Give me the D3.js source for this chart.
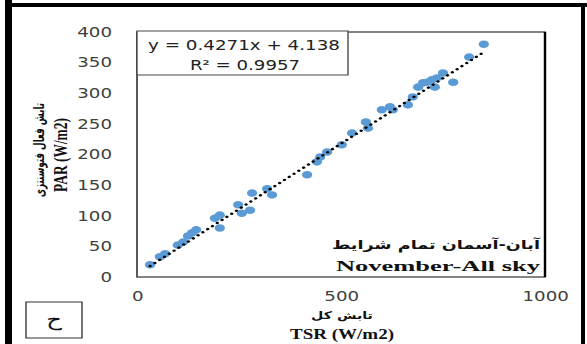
<!DOCTYPE html>
<html>
<head>
<meta charset="utf-8">
<script src="https://cdn.jsdelivr.net/npm/d3@7"></script>
<style>
  html, body { margin: 0; padding: 0; background: #fff; }
  svg { display: block; }
</style>
</head>
<body>
<div id="chart"></div>
<script>
// TSR (total solar radiation) vs PAR, November, all-sky conditions
const tsr = [32, 56, 69, 100, 113, 125, 135, 145, 191, 203, 203, 248, 257, 277, 282, 319, 331,
             417, 441, 449, 466, 502, 527, 561, 566, 600, 620, 627, 664, 676, 689, 701, 711,
             723, 730, 735, 750, 775, 814, 850];
const par = [20, 33, 38, 52, 57, 67, 72, 77, 96, 101, 80, 118, 104, 109, 137, 144, 134,
             167, 188, 196, 204, 216, 235, 253, 243, 273, 278, 273, 281, 294, 310, 317, 318,
             322, 310, 325, 333, 318, 359, 380];
const xTicks = [0, 500, 1000];
const yTicks = [0, 50, 100, 150, 200, 250, 300, 350, 400];
const fit = { slope: 0.4271, intercept: 4.138, r2: 0.9957 };

const W = 587, H = 344;
const k = 1.35;                 // horizontal stretch of the figure
const px = v => v / k;          // screen x -> drawing units

const svg = d3.select("#chart").append("svg")
  .attr("width", W).attr("height", H)
  .attr("viewBox", `0 0 ${W / k} ${H}`)
  .attr("preserveAspectRatio", "none");

svg.append("rect").attr("width", W / k).attr("height", H).attr("fill", "#fff");

// heavy outer frame
svg.append("rect").attr("x", px(5)).attr("y", 0).attr("width", px(7)).attr("height", H).attr("fill", "#000");
svg.append("rect").attr("x", px(5)).attr("y", 3).attr("width", px(582)).attr("height", 4).attr("fill", "#000");
svg.append("rect").attr("x", px(581)).attr("y", 3).attr("width", px(4)).attr("height", H).attr("fill", "#000");

const plot = { left: 137, right: 545, top: 32, bottom: 277 };
const x = d3.scaleLinear().domain([0, 1000]).range([px(plot.left), px(plot.right)]);
const y = d3.scaleLinear().domain([0, 400]).range([plot.bottom, plot.top]);

// plot area border
svg.append("rect")
  .attr("x", x(0)).attr("y", y(400))
  .attr("width", x(1000) - x(0)).attr("height", y(0) - y(400))
  .attr("fill", "none").attr("stroke", "#333").attr("stroke-width", 1.2);
svg.append("line")
  .attr("x1", x(1000)).attr("x2", x(1000)).attr("y1", y(400)).attr("y2", y(0))
  .attr("stroke", "#000").attr("stroke-width", 1.8);

const tickFont = "'DejaVu Sans', Verdana, sans-serif";

const yAxis = svg.append("g")
  .attr("transform", `translate(${x(0)},0)`)
  .call(d3.axisLeft(y).tickValues(yTicks).tickFormat(d3.format("d")).tickSize(0).tickPadding(px(25)));
yAxis.select(".domain").remove();
yAxis.selectAll("text").attr("font-family", tickFont).attr("font-size", 13.5).attr("fill", "#404040");

const xAxis = svg.append("g")
  .attr("transform", `translate(0,${y(0)})`)
  .call(d3.axisBottom(x).tickValues(xTicks).tickFormat(d3.format("d")).tickSize(0).tickPadding(14));
xAxis.select(".domain").remove();
xAxis.selectAll("text").attr("font-family", tickFont).attr("font-size", 13.5).attr("fill", "#404040");

// data points
svg.append("g").selectAll("circle")
  .data(tsr.map((t, i) => [t, par[i]]))
  .join("circle")
  .attr("cx", d => x(d[0]))
  .attr("cy", d => y(d[1]))
  .attr("r", 3.8)
  .attr("fill", "#5b9bd5");

// linear trendline over the data range
const xMin = d3.min(tsr), xMax = d3.max(tsr);
svg.append("line")
  .attr("x1", x(xMin)).attr("y1", y(fit.slope * xMin + fit.intercept))
  .attr("x2", x(xMax)).attr("y2", y(fit.slope * xMax + fit.intercept))
  .attr("stroke", "#000").attr("stroke-width", 2.4)
  .attr("stroke-linecap", "round").attr("stroke-dasharray", "0.1 4.6");

// equation box
svg.append("rect")
  .attr("x", px(137)).attr("y", 31).attr("width", px(211)).attr("height", 44)
  .attr("fill", "#fff").attr("stroke", "#444").attr("stroke-width", 1);
const eq = svg.append("g").attr("font-family", tickFont).attr("font-size", 13.5).attr("fill", "#222")
  .attr("text-anchor", "middle");
eq.append("text").attr("x", px(244)).attr("y", 50)
  .attr("textLength", px(192)).attr("lengthAdjust", "spacingAndGlyphs")
  .text(`y = ${fit.slope}x + ${fit.intercept}`);
eq.append("text").attr("x", px(245)).attr("y", 70)
  .attr("textLength", px(110)).attr("lengthAdjust", "spacingAndGlyphs")
  .text("R² = " + fit.r2);

// period / sky-condition label
const serif = "'Liberation Serif', 'Times New Roman', serif";
svg.append("text").attr("x", px(540)).attr("y", 249)
  .attr("text-anchor", "end").attr("font-family", "'DejaVu Sans', sans-serif")
  .attr("font-weight", "bold").attr("font-size", 12.5).attr("fill", "#111")
  .attr("textLength", px(208)).attr("lengthAdjust", "spacingAndGlyphs")
  .text("آبان-آسمان تمام شرایط");
svg.append("text").attr("x", px(540)).attr("y", 271)
  .attr("text-anchor", "end").attr("font-family", serif)
  .attr("font-weight", "bold").attr("font-size", 15.5).attr("fill", "#111")
  .attr("textLength", px(204)).attr("lengthAdjust", "spacingAndGlyphs")
  .text("November-All sky");

// axis titles
svg.append("text").attr("x", px(342)).attr("y", 319)
  .attr("text-anchor", "middle").attr("font-family", "'DejaVu Sans', sans-serif")
  .attr("font-weight", "bold").attr("font-size", 10.5).attr("fill", "#111")
  .text("تابش کل");
svg.append("text").attr("x", px(342)).attr("y", 339)
  .attr("text-anchor", "middle").attr("font-family", serif)
  .attr("font-weight", "bold").attr("font-size", 15).attr("fill", "#111")
  .attr("textLength", px(104)).attr("lengthAdjust", "spacingAndGlyphs")
  .text("TSR (W/m2)");

svg.append("text")
  .attr("transform", `translate(${px(44)},150) rotate(-90)`)
  .attr("text-anchor", "middle").attr("font-family", "'DejaVu Sans', sans-serif")
  .attr("font-weight", "bold").attr("font-size", 10.5).attr("fill", "#111")
  .attr("textLength", 94).attr("lengthAdjust", "spacingAndGlyphs")
  .text("تابش فعال فتوسنتزی");
svg.append("text")
  .attr("transform", `translate(${px(67)},155) rotate(-90)`)
  .attr("text-anchor", "middle").attr("font-family", serif)
  .attr("font-weight", "bold").attr("font-size", 13.5).attr("fill", "#111")
  .attr("textLength", 74).attr("lengthAdjust", "spacingAndGlyphs")
  .text("PAR (W/m2)");

// panel letter
svg.append("rect")
  .attr("x", px(26)).attr("y", 302).attr("width", px(56)).attr("height", 36)
  .attr("fill", "#fff").attr("stroke", "#333").attr("stroke-width", 1);
svg.append("text").attr("x", px(54)).attr("y", 326)
  .attr("text-anchor", "middle").attr("font-family", "'DejaVu Sans', sans-serif")
  .attr("font-size", 18).attr("fill", "#111")
  .text("ح");
</script>
</body>
</html>
